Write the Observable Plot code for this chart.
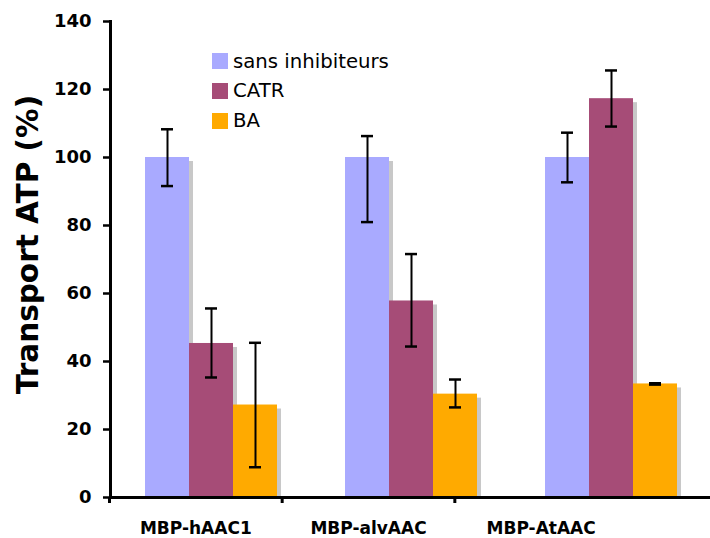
<!DOCTYPE html>
<html>
<head>
<meta charset="utf-8">
<script src="https://cdn.jsdelivr.net/npm/d3@7"></script>
<script src="https://cdn.jsdelivr.net/npm/@observablehq/plot@0.6"></script>
<style>
  html, body { margin: 0; padding: 0; background: white; }
  #wrap { position: relative; width: 710px; height: 538px; font-family: "DejaVu Sans", Verdana, sans-serif; }
  #wrap svg { position: absolute; left: 0; }
  #legend { position: absolute; left: 212px; top: 46.5px; font-size: 19.7px; color: #000; line-height: 1; }
  #legend .row { display: flex; align-items: center; height: 29.8px; }
  #legend .sw { width: 16px; height: 16px; margin-right: 5px; flex: none; }
</style>
</head>
<body>
<div id="wrap"><div id="legend"></div></div>
<script>
// ---- data ----
const groups = ["MBP-hAAC1", "MBP-alvAAC", "MBP-AtAAC"];
const series = ["sans inhibiteurs", "CATR", "BA"];
const colors = ["#a9aaff", "#a64c77", "#ffaa00"];

const sansInhibiteurs = [100, 100, 100];
const catr = [45.3, 57.8, 117.3];
const ba = [27.2, 30.4, 33.4];

const sansLow = [91.6, 81.0, 92.7];
const sansHigh = [108.3, 106.3, 107.3];
const catrLow = [35.3, 44.4, 109.1];
const catrHigh = [55.6, 71.6, 125.6];
const baLow = [8.9, 26.5, 33.2];
const baHigh = [45.5, 34.7, 33.6];

const yTicks = [0, 20, 40, 60, 80, 100, 120, 140];
const yLabel = "Transport ATP (%)";

// build table
const values = [sansInhibiteurs, catr, ba];
const lows = [sansLow, catrLow, baLow];
const highs = [sansHigh, catrHigh, baHigh];
const table = [];
groups.forEach((g, gi) => {
  series.forEach((s, si) => {
    table.push({group: g, series: s, value: values[si][gi], lo: lows[si][gi], hi: highs[si][gi]});
  });
});

const font = "DejaVu Sans, Verdana, sans-serif";

const main = Plot.plot({
  width: 710,
  height: 538,
  marginLeft: 109,
  marginRight: 0,
  marginTop: 21,
  marginBottom: 41,
  style: {fontFamily: font, background: "white", overflow: "visible"},
  fx: {domain: groups, padding: 0, axis: null},
  x: {domain: series, paddingInner: 0, paddingOuter: 0.726, align: 0.52, axis: null},
  y: {domain: [0, 140], axis: null},
  color: {domain: series, range: colors},
  marks: [
    // shadows
    Plot.barY(table, {fx: "group", x: "series", y: "value", fill: "#c8c8c8", dx: 4, dy: 4, insetBottom: 4}),
    // bars
    Plot.barY(table, {fx: "group", x: "series", y: "value", fill: "series"}),
    // error bars
    Plot.ruleX(table, {fx: "group", x: "series", y1: "lo", y2: "hi", stroke: "#000", strokeWidth: 2}),
    Plot.tickY(table, {fx: "group", x: "series", y: "hi", stroke: "#000", strokeWidth: 2.5, insetLeft: 16, insetRight: 16}),
    Plot.tickY(table, {fx: "group", x: "series", y: "lo", stroke: "#000", strokeWidth: 2.5, insetLeft: 16, insetRight: 16}),
    // axes
    Plot.axisY({ticks: yTicks, tickSize: 7, tickPadding: 12, fontSize: 18, fontWeight: "bold", strokeWidth: 2.5, label: null}),
    Plot.frame({anchor: "left", facetAnchor: "left", stroke: "#000", strokeWidth: 3}),
    Plot.ruleY([0], {stroke: "#000", strokeWidth: 3}),
    Plot.text([yLabel], {frameAnchor: "left", facetAnchor: "left", textAnchor: "middle", lineAnchor: "middle", rotate: -90, dx: -82, dy: -15, fontSize: 29.5, fontWeight: "bold", fill: "#000"})
  ]
});
main.style.top = "0px";
document.getElementById("wrap").appendChild(main);

// category labels and x ticks (bottom strip)
const strip = Plot.plot({
  width: 710,
  height: 41,
  marginLeft: 109,
  marginRight: 83,
  marginTop: 0,
  marginBottom: 35,
  style: {fontFamily: font, background: "transparent", overflow: "visible"},
  x: {domain: [0, groups.length], axis: null},
  marks: [
    Plot.tickX(groups.map((d, i) => i), {x: d => d, stroke: "#000", strokeWidth: 3}),
    Plot.text(groups, {x: (d, i) => i + 0.5, text: d => d, frameAnchor: "bottom", dy: 30.5, fontSize: 17, fontWeight: "bold", fill: "#000"})
  ]
});
strip.style.top = "497px";
document.getElementById("wrap").appendChild(strip);

// legend
const legend = document.getElementById("legend");
series.forEach((s, i) => {
  const row = document.createElement("div");
  row.className = "row";
  const sw = document.createElement("span");
  sw.className = "sw";
  sw.style.background = colors[i];
  const t = document.createElement("span");
  t.textContent = s;
  row.appendChild(sw);
  row.appendChild(t);
  legend.appendChild(row);
});
legend.parentNode.appendChild(legend);
</script>
</body>
</html>
